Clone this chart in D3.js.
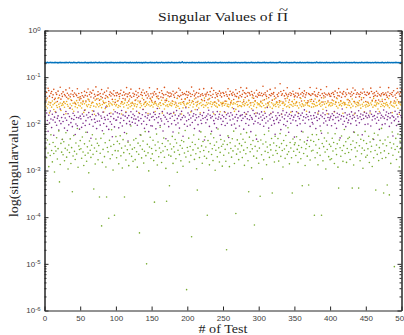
<!DOCTYPE html>
<html>
<head>
<meta charset="utf-8">
<script src="https://cdn.jsdelivr.net/npm/d3@7"></script>
<style>
  body { margin: 0; background: #fff; }
</style>
</head>
<body>
<div id="chart"></div>
<script>
// singular values per test, one array per index (sorted largest first)
var sv1 = [
  .205,.206,.204,.207,.205,.203,.206,.205,.208,.204,.205,.206,.203,.205,.207,.204,.206,.205,.202,.206,.205,.207,.204,.205,.206,
  .204,.206,.205,.203,.207,.205,.206,.204,.205,.208,.205,.203,.206,.204,.205,.207,.205,.206,.204,.203,.205,.206,.207,.205,.204,
  .206,.205,.203,.206,.204,.205,.207,.205,.204,.206,.202,.205,.206,.204,.207,.205,.203,.206,.205,.204,.208,.205,.206,.204,.205,
  .205,.207,.204,.205,.206,.203,.205,.204,.206,.205,.207,.204,.205,.203,.206,.205,.204,.207,.205,.206,.203,.205,.204,.206,.205,
  .203,.205,.206,.204,.205,.207,.204,.206,.205,.203,.205,.206,.208,.204,.205,.206,.204,.205,.203,.207,.205,.204,.206,.205,.204,
  .206,.204,.205,.207,.203,.205,.206,.205,.204,.206,.205,.202,.206,.205,.204,.207,.205,.206,.204,.205,.203,.206,.205,.207,.204,
  .205,.206,.204,.205,.203,.206,.207,.205,.204,.205,.206,.204,.205,.208,.205,.203,.206,.204,.205,.206,.205,.204,.207,.205,.206,
  .204,.205,.207,.205,.206,.204,.205,.203,.206,.205,.204,.206,.205,.207,.204,.205,.206,.213,.205,.204,.206,.205,.203,.205,.206,
  .206,.203,.205,.206,.204,.205,.207,.204,.206,.205,.203,.205,.206,.204,.205,.207,.205,.204,.206,.205,.204,.206,.205,.203,.207,
  .205,.204,.206,.205,.207,.203,.205,.206,.204,.205,.206,.205,.204,.207,.205,.206,.203,.205,.204,.206,.205,.207,.204,.205,.206,
  .204,.206,.205,.203,.206,.205,.204,.207,.205,.206,.204,.205,.203,.206,.205,.204,.207,.205,.206,.204,.205,.206,.203,.205,.204,
  .206,.205,.204,.206,.205,.207,.204,.205,.203,.206,.205,.204,.206,.205,.207,.205,.204,.206,.203,.205,.206,.204,.205,.207,.205,
  .205,.203,.206,.204,.205,.206,.205,.207,.204,.205,.206,.203,.205,.204,.206,.205,.207,.204,.205,.206,.205,.203,.206,.204,.205,
  .204,.206,.205,.207,.212,.205,.204,.206,.205,.203,.206,.205,.204,.207,.205,.206,.204,.205,.203,.206,.205,.204,.206,.205,.207,
  .206,.205,.203,.205,.206,.204,.205,.207,.205,.204,.206,.205,.203,.206,.204,.205,.206,.205,.207,.204,.205,.206,.204,.205,.203,
  .205,.204,.206,.205,.203,.211,.205,.206,.204,.205,.207,.204,.205,.206,.205,.203,.206,.204,.205,.207,.205,.204,.206,.205,.204,
  .204,.206,.205,.204,.207,.205,.203,.206,.205,.204,.206,.205,.207,.204,.205,.206,.203,.205,.206,.204,.205,.207,.205,.206,.204,
  .206,.205,.204,.206,.205,.203,.205,.206,.207,.204,.205,.206,.204,.205,.203,.206,.205,.204,.207,.205,.206,.204,.205,.206,.205,
  .205,.207,.204,.205,.206,.204,.205,.203,.206,.205,.204,.206,.205,.207,.204,.205,.206,.205,.203,.206,.204,.205,.207,.205,.204,
  .204,.205,.206,.203,.205,.207,.204,.206,.205,.204,.206,.205,.203,.205,.206,.204,.207,.205,.206,.204,.205,.203,.206,.205,.206
];
var sv2 = [
  .0437,.0312,.0471,.0358,.0579,.0516,.0392,.0284,.0449,.0493,.0366,.0418,.0548,.0331,.0353,.0462,.0427,.0302,.0502,.0361,.0409,.0607,.0338,.0441,.0387,
  .0483,.0293,.0426,.0398,.0534,.0371,.0452,.0344,.0413,.0588,.0379,.0436,.0316,.0509,.0421,.0384,.0459,.0274,.0432,.0403,.0566,.0368,.0447,.0323,.0381,
  .0347,.0464,.0401,.0298,.0373,.0497,.0408,.0309,.0468,.0393,.0557,.0327,.0423,.0481,.0376,.0454,.0291,.0521,.0357,.0429,.0389,.0618,.0341,.0412,.0488,
  .0419,.0322,.0448,.0386,.0541,.0363,.0434,.0282,.0473,.0352,.0406,.0504,.0378,.0583,.0301,.0422,.0479,.0394,.0451,.0334,.0428,.0513,.0399,.0288,.0458,
  .0402,.0466,.0313,.0431,.0383,.0445,.0524,.0296,.0411,.0349,.0477,.0416,.0339,.0439,.0598,.0382,.0433,.0308,.0461,.0397,.0553,.0372,.0281,.0453,.0391,
  .0428,.0318,.0499,.0414,.0362,.0463,.0388,.0569,.0303,.0424,.0472,.0404,.0531,.0329,.0456,.0289,.0407,.0484,.0359,.0435,.0394,.0592,.0351,.0442,.0311,
  .0374,.0453,.0415,.0487,.0299,.0438,.0385,.0561,.0396,.0343,.0467,.0283,.0377,.0512,.0444,.0364,.0417,.0603,.0321,.0425,.0315,.0481,.0401,.0457,.0381,
  .0459,.0392,.0436,.0307,.0498,.0413,.0369,.0451,.0279,.0476,.0354,.0403,.0577,.0383,.0528,.0408,.0336,.0469,.0427,.0297,.0448,.0342,.0422,.0491,.0367,
  .0412,.0478,.0319,.0443,.0386,.0612,.0424,.0302,.0507,.0398,.0434,.0358,.0466,.0294,.0379,.0452,.0549,.0391,.0418,.0332,.0441,.0405,.0568,.0314,.0429,
  .0393,.0437,.0474,.0328,.0421,.0348,.0489,.0406,.0581,.0372,.0432,.0518,.0292,.0362,.0463,.0419,.0387,.0446,.0309,.0501,.0411,.0455,.0378,.0271,.0468,
  .0447,.0399,.0306,.0482,.0426,.0389,.0563,.0351,.0418,.0497,.0288,.0439,.0408,.0473,.0331,.0432,.0396,.0539,.0383,.0449,.0301,.0371,.0486,.0404,.0597,
  .0381,.0428,.0514,.0298,.0461,.0367,.0443,.0582,.0392,.0469,.0318,.0454,.0413,.0283,.0492,.0426,.0401,.0353,.0458,.0312,.0389,.0523,.0374,.0437,.0409,
  .0471,.0408,.0303,.0452,.0398,.0641,.0427,.0329,.0463,.0414,.0386,.0503,.0281,.0361,.0419,.0547,.0402,.0448,.0322,.0433,.0466,.0391,.0584,.0357,.0293,
  .0423,.0387,.0459,.0311,.0723,.0494,.0409,.0438,.0294,.0519,.0397,.0346,.0452,.0421,.0593,.0388,.0431,.0324,.0462,.0406,.0442,.0302,.0498,.0428,.0379,
  .0398,.0457,.0291,.0377,.0449,.0412,.0572,.0363,.0434,.0308,.0469,.0393,.0441,.0508,.0369,.0418,.0461,.0284,.0313,.0447,.0426,.0601,.0407,.0331,.0439,
  .0436,.0304,.0486,.0417,.0396,.0578,.0383,.0429,.0471,.0319,.0404,.0542,.0361,.0443,.0292,.0401,.0458,.0376,.0432,.0623,.0414,.0309,.0453,.0422,.0388,
  .0391,.0448,.0324,.0468,.0427,.0379,.0502,.0287,.0359,.0461,.0403,.0569,.0394,.0477,.0311,.0372,.0452,.0428,.0489,.0279,.0383,.0459,.0419,.0551,.0333,
  .0457,.0313,.0439,.0384,.0482,.0416,.0587,.0448,.0299,.0527,.0371,.0431,.0463,.0286,.0437,.0382,.0424,.0474,.0328,.0451,.0558,.0362,.0479,.0426,.0301,
  .0409,.0472,.0289,.0433,.0454,.0368,.0581,.0493,.0318,.0441,.0384,.0462,.0407,.0314,.0499,.0392,.0451,.0323,.0418,.0609,.0397,.0438,.0303,.0464,.0421,
  .0428,.0331,.0458,.0412,.0373,.0482,.0596,.0401,.0447,.0292,.0423,.0471,.0389,.0513,.0309,.0414,.0362,.0453,.0571,.0478,.0298,.0436,.0393,.0462,.0537
];
var sv3 = [
  .0268,.0237,.0341,.0219,.0262,.0293,.0172,.0251,.0284,.0228,.0309,.0257,.0203,.0274,.0183,.0289,.0246,.0224,.0352,.0263,.0231,.0279,.0194,.0248,.0271,
  .0253,.0296,.0227,.0272,.0164,.0301,.0259,.0238,.0347,.0215,.0266,.0328,.0244,.0206,.0277,.0186,.0291,.0233,.0261,.0314,.0221,.0283,.0249,.0358,.0240,
  .0281,.0218,.0264,.0312,.0176,.0269,.0199,.0295,.0252,.0234,.0338,.0258,.0303,.0226,.0247,.0275,.0191,.0286,.0239,.0161,.0322,.0229,.0270,.0255,.0349,
  .0232,.0273,.0250,.0336,.0222,.0260,.0306,.0179,.0276,.0212,.0287,.0245,.0235,.0361,.0265,.0241,.0280,.0171,.0267,.0254,.0297,.0201,.0263,.0331,.0243,
  .0259,.0304,.0225,.0248,.0345,.0236,.0271,.0163,.0292,.0262,.0230,.0278,.0316,.0181,.0251,.0285,.0217,.0257,.0339,.0233,.0274,.0246,.0290,.0209,.0266,
  .0242,.0270,.0327,.0231,.0258,.0308,.0174,.0282,.0223,.0269,.0244,.0353,.0205,.0261,.0279,.0236,.0299,.0252,.0273,.0166,.0256,.0294,.0240,.0337,.0250,
  .0288,.0229,.0263,.0281,.0184,.0272,.0253,.0359,.0238,.0264,.0216,.0283,.0247,.0319,.0170,.0268,.0260,.0208,.0290,.0243,.0342,.0255,.0234,.0301,.0262,
  .0251,.0279,.0243,.0270,.0302,.0168,.0259,.0293,.0227,.0249,.0348,.0237,.0275,.0213,.0284,.0262,.0162,.0288,.0220,.0273,.0254,.0332,.0235,.0265,.0280,
  .0273,.0224,.0291,.0252,.0180,.0282,.0310,.0230,.0264,.0340,.0202,.0287,.0242,.0260,.0305,.0218,.0271,.0173,.0283,.0246,.0313,.0258,.0226,.0356,.0249,
  .0244,.0286,.0262,.0221,.0279,.0346,.0268,.0298,.0232,.0259,.0281,.0165,.0253,.0292,.0239,.0274,.0228,.0329,.0257,.0248,.0182,.0285,.0267,.0241,.0289,
  .0277,.0250,.0175,.0269,.0303,.0239,.0261,.0231,.0335,.0255,.0272,.0311,.0222,.0264,.0283,.0185,.0270,.0204,.0294,.0258,.0234,.0350,.0247,.0300,.0243,
  .0234,.0284,.0259,.0326,.0245,.0271,.0163,.0290,.0252,.0260,.0315,.0229,.0278,.0250,.0211,.0362,.0287,.0240,.0263,.0302,.0171,.0223,.0281,.0256,.0269,
  .0263,.0242,.0289,.0233,.0275,.0321,.0248,.0183,.0220,.0266,.0344,.0238,.0272,.0254,.0297,.0230,.0169,.0282,.0214,.0267,.0245,.0338,.0261,.0236,.0279,
  .0291,.0258,.0229,.0285,.0251,.0303,.0161,.0274,.0210,.0280,.0249,.0262,.0308,.0232,.0355,.0241,.0288,.0225,.0259,.0178,.0253,.0299,.0237,.0271,.0333,
  .0250,.0276,.0298,.0243,.0172,.0219,.0282,.0254,.0349,.0234,.0270,.0257,.0240,.0313,.0252,.0283,.0186,.0268,.0247,.0294,.0239,.0328,.0301,.0228,.0273,
  .0270,.0231,.0261,.0339,.0242,.0285,.0248,.0170,.0306,.0260,.0275,.0238,.0292,.0253,.0206,.0357,.0264,.0297,.0227,.0272,.0164,.0289,.0244,.0258,.0281,
  .0241,.0282,.0251,.0268,.0311,.0180,.0263,.0295,.0237,.0346,.0219,.0285,.0249,.0261,.0302,.0243,.0274,.0168,.0290,.0255,.0279,.0260,.0224,.0330,.0252,
  .0284,.0248,.0293,.0222,.0265,.0340,.0240,.0300,.0163,.0278,.0233,.0259,.0288,.0245,.0270,.0313,.0252,.0217,.0360,.0262,.0238,.0291,.0181,.0250,.0230,
  .0260,.0290,.0239,.0273,.0251,.0171,.0280,.0257,.0304,.0228,.0351,.0249,.0292,.0242,.0264,.0283,.0208,.0271,.0184,.0299,.0235,.0262,.0336,.0246,.0276,
  .0233,.0272,.0253,.0287,.0258,.0242,.0347,.0221,.0269,.0301,.0250,.0174,.0239,.0280,.0230,.0275,.0294,.0249,.0329,.0216,.0281,.0160,.0266,.0254,.0292
];
var sv4 = [
  .0142,.0097,.0171,.0118,.0069,.0153,.0104,.0189,.0127,.0083,.0161,.0121,.0057,.0139,.0108,.0176,.0093,.0131,.0148,.0074,.0116,.0207,.0101,.0136,.0046,
  .0112,.0158,.0081,.0133,.0184,.0119,.0072,.0165,.0095,.0143,.0218,.0106,.0129,.0087,.0169,.0124,.0151,.0059,.0099,.0137,.0091,.0179,.0134,.0077,.0146,
  .0128,.0084,.0163,.0103,.0145,.0196,.0092,.0117,.0155,.0066,.0135,.0174,.0098,.0141,.0049,.0122,.0159,.0089,.0187,.0126,.0107,.0149,.0079,.0114,.0168,
  .0157,.0115,.0094,.0147,.0132,.0071,.0178,.0102,.0138,.0123,.0228,.0088,.0152,.0125,.0076,.0166,.0111,.0144,.0098,.0053,.0162,.0129,.0086,.0182,.0119,
  .0121,.0172,.0139,.0082,.0164,.0105,.0131,.0193,.0090,.0154,.0118,.0065,.0146,.0175,.0101,.0134,.0043,.0150,.0113,.0096,.0181,.0137,.0108,.0160,.0127,
  .0149,.0103,.0126,.0186,.0093,.0140,.0117,.0167,.0058,.0130,.0100,.0156,.0203,.0114,.0080,.0143,.0173,.0097,.0133,.0152,.0068,.0120,.0163,.0091,.0138,
  .0090,.0144,.0176,.0122,.0158,.0078,.0135,.0213,.0106,.0141,.0165,.0092,.0128,.0115,.0183,.0070,.0153,.0099,.0139,.0048,.0125,.0170,.0112,.0087,.0161,
  .0132,.0166,.0100,.0145,.0067,.0177,.0118,.0154,.0095,.0192,.0129,.0104,.0148,.0081,.0162,.0123,.0185,.0136,.0054,.0151,.0098,.0140,.0221,.0116,.0089,
  .0171,.0124,.0155,.0094,.0133,.0188,.0107,.0146,.0164,.0079,.0120,.0157,.0135,.0201,.0096,.0142,.0070,.0160,.0119,.0102,.0150,.0130,.0174,.0045,.0137,
  .0105,.0147,.0123,.0163,.0195,.0088,.0152,.0134,.0069,.0144,.0179,.0117,.0101,.0156,.0131,.0082,.0183,.0125,.0140,.0161,.0057,.0129,.0097,.0153,.0113,
  .0141,.0181,.0092,.0130,.0157,.0103,.0168,.0051,.0145,.0121,.0173,.0094,.0154,.0127,.0210,.0099,.0139,.0080,.0159,.0116,.0134,.0185,.0090,.0148,.0152,
  .0118,.0156,.0131,.0077,.0175,.0143,.0102,.0161,.0128,.0182,.0093,.0122,.0150,.0068,.0137,.0126,.0194,.0100,.0165,.0114,.0146,.0047,.0170,.0105,.0132,
  .0162,.0098,.0140,.0180,.0120,.0153,.0089,.0131,.0169,.0104,.0142,.0224,.0115,.0081,.0155,.0127,.0164,.0093,.0138,.0178,.0117,.0101,.0060,.0149,.0124,
  .0133,.0172,.0106,.0151,.0119,.0075,.0163,.0140,.0190,.0097,.0128,.0155,.0091,.0174,.0113,.0145,.0066,.0160,.0130,.0103,.0150,.0184,.0121,.0139,.0052,
  .0154,.0116,.0182,.0092,.0144,.0166,.0129,.0100,.0152,.0069,.0170,.0119,.0141,.0199,.0103,.0135,.0158,.0044,.0143,.0122,.0178,.0088,.0149,.0127,.0107,
  .0099,.0150,.0132,.0173,.0079,.0139,.0118,.0160,.0187,.0128,.0090,.0153,.0063,.0142,.0171,.0104,.0130,.0156,.0115,.0192,.0094,.0137,.0162,.0120,.0134,
  .0145,.0091,.0164,.0123,.0151,.0184,.0102,.0136,.0080,.0169,.0140,.0117,.0158,.0050,.0127,.0148,.0208,.0098,.0143,.0114,.0172,.0087,.0131,.0155,.0106,
  .0120,.0161,.0143,.0101,.0180,.0129,.0152,.0067,.0138,.0170,.0116,.0093,.0149,.0132,.0191,.0105,.0141,.0163,.0124,.0058,.0154,.0130,.0177,.0097,.0146,
  .0168,.0135,.0099,.0152,.0140,.0189,.0090,.0160,.0121,.0144,.0046,.0150,.0128,.0182,.0103,.0138,.0165,.0119,.0076,.0171,.0133,.0153,.0096,.0142,.0198,
  .0131,.0100,.0154,.0179,.0123,.0143,.0166,.0088,.0134,.0173,.0104,.0148,.0055,.0139,.0117,.0186,.0127,.0092,.0160,.0141,.0112,.0175,.0098,.0151,.0136
];
var sv5 = [
  .00063,.00314,.00187,.00452,.00238,.00121,.00365,.00209,.00581,.00268,.00153,.00397,.00231,.00093,.00328,.00262,.00503,.00176,.00294,.00705,.00057,.00134,.00381,.00247,.00466,
  .00218,.00413,.00162,.00298,.00642,.00193,.00274,.00108,.00352,.00243,.00476,.00141,.00309,.00035,.00204,.00563,.00257,.00172,.00388,.00226,.00796,.00117,.00335,.00281,.00437,
  .00292,.00183,.00521,.00249,.00128,.00372,.00213,.00659,.00158,.00321,.00236,.00089,.00428,.00272,.00191,.00347,.00584,.00222,.0004,.00303,.00138,.00471,.00258,.00383,.00169,
  .00342,.00027,.00234,.00488,.000065,.00149,.00283,.00612,.00198,.00393,.00119,.00027,.00312,.00251,.000095,.00443,.00178,.00329,.00748,.00217,.00102,.00361,.00011,.00266,.00532,
  .00188,.00421,.00263,.00139,.00374,.00553,.00206,.00302,.00113,.00458,.00241,.00027,.00334,.00168,.00617,.00279,.00402,.00127,.00229,.00353,.00896,.00201,.00287,.00157,.00449,
  .00308,.00171,.00484,.00252,.00118,.00386,.00223,.000046,.00339,.00572,.00186,.00284,.00427,.00144,.00259,.00681,.00208,.00001,.00363,.00239,.00098,.00318,.00514,.00181,.00296,
  .00227,.00446,.00163,.00021,.00351,.00267,.00603,.00131,.00408,.00197,.00304,.00847,.00242,.00148,.00379,.00261,.00497,.00192,.00326,.00111,.00022,.00278,.00432,.00214,.00047,
  .00369,.00203,.00288,.00538,.00142,.00323,.00248,.00462,.00179,.00387,.00092,.00271,.00634,.00219,.00343,.00161,.00441,.00299,.00123,.00412,.00237,.00718,.00194,.0000028,.00311,
  .00258,.00493,.00152,.00327,.00211,.000038,.00403,.00276,.00578,.00173,.00362,.00229,.00109,.00038,.00301,.00468,.00189,.00253,.00672,.00337,.00143,.00418,.00269,.00202,.00527,
  .00319,.00182,.00011,.00437,.00251,.00132,.00377,.00608,.00221,.00293,.00163,.00502,.00348,.00101,.00272,.00409,.00196,.00776,.00306,.00152,.00244,.00461,.00331,.00124,.00366,
  .00213,.00428,.00284,.00158,.00002,.00359,.00552,.00238,.00121,.00392,.00297,.00193,.00478,.00263,.00697,.00141,.00333,.00012,.00224,.00453,.00288,.00171,.00376,.00249,.00603,
  .00341,.00189,.00468,.00273,.00129,.00404,.00228,.00648,.00307,.00162,.00035,.00518,.00252,.00361,.00114,.00291,.00437,.00203,.000068,.00329,.00567,.00184,.00261,.00419,.00143,
  .00302,.00028,.00449,.00218,.00066,.00371,.00169,.00592,.00257,.00408,.00133,.00318,.00243,.00702,.00191,.00354,.00276,.00486,.00033,.00212,.00388,.00152,.00541,.00267,.00338,
  .00232,.00482,.00159,.00313,.00618,.00201,.00377,.00268,.00119,.00439,.00289,.00182,.00562,.00342,.00222,.00827,.00253,.00139,.00397,.00303,.00188,.00033,.00473,.00259,.00358,
  .00391,.00209,.00528,.00283,.00149,.00343,.00246,.00457,.00179,.00312,.00047,.00668,.00231,.00409,.00128,.00292,.00368,.00203,.00513,.00049,.00327,.00168,.00443,.00262,.00588,
  .00271,.00418,.00011,.00187,.00352,.00582,.00239,.00132,.00463,.00299,.00211,.00708,.00011,.00379,.00161,.00324,.00497,.00248,.00108,.00427,.00282,.00637,.00198,.00363,.00171,
  .00329,.00178,.00491,.00262,.00398,.00141,.00612,.00293,.00219,.00372,.00118,.00042,.00448,.00308,.00202,.00548,.00268,.00157,.00341,.00758,.00232,.00413,.00149,.00297,.00482,
  .00243,.00517,.00172,.00361,.00279,.00042,.00428,.00131,.00657,.00309,.00198,.00392,.00261,.00573,.00042,.00338,.00162,.00468,.00228,.00302,.00112,.00437,.00272,.00688,.00193,
  .00378,.00212,.00291,.00543,.00148,.00407,.00253,.00332,.00122,.00476,.00187,.00628,.00268,.00038,.00351,.00222,.00577,.00163,.00309,.00442,.00239,.00798,.00181,.00372,.00033,
  .00263,.00451,.00189,.00338,.00049,.00522,.00231,.0003,.00398,.00142,.00303,.00667,.00212,.00369,.0000087,.00281,.00487,.00172,.00327,.00603,.00248,.00119,.00423,.00311,.00553
];

var xTicks = [0, 50, 100, 150, 200, 250, 300, 350, 400, 450, 500];
var yTicks = [1e-6, 1e-5, 1e-4, 1e-3, 1e-2, 1e-1, 1];
var yTickExp = ["-6", "-5", "-4", "-3", "-2", "-1", "0"];
var colors = ["#0072BD", "#D95319", "#EDB120", "#7E2F8E", "#77AC30"];

var w = 404;
var h = 335;
var margin = { top: 30.5, bottom: 24.5, left: 44.5, right: 2.5 };
var width = w - margin.left - margin.right;
var height = h - margin.top - margin.bottom;

var xScale = d3.scaleLinear()
  .domain([0, 500])
  .range([0, width]);

var yScale = d3.scaleLog()
  .domain([1e-6, 1])
  .range([height, 0]);

// minor ticks 2..9 in every decade
var yMinor = [];
yTicks.slice(0, -1).forEach(function (t) {
  for (var k = 2; k < 10; k++) yMinor.push(t * k);
});

var svg = d3.select("#chart")
  .append("svg")
  .attr("width", w)
  .attr("height", h);

var chart = svg.append("g")
  .attr("transform", "translate(" + margin.left + "," + margin.top + ")");

// points
[sv1, sv2, sv3, sv4, sv5].forEach(function (vals, k) {
  chart.append("g")
    .selectAll("circle")
    .data(vals)
    .enter()
    .append("circle")
    .attr("cx", function (d, i) { return xScale(i + 1) })
    .attr("cy", function (d) { return yScale(d) })
    .attr("r", 0.8)
    .style("fill", colors[k]);
});

function styleAxis(sel) {
  sel.selectAll("path, line").attr("stroke", "#262626");
  sel.selectAll("text")
    .style("font-family", "'Liberation Sans', Arial, sans-serif")
    .style("font-size", "8px")
    .style("fill", "#404040");
}

// bottom / top
chart.append("g")
  .attr("transform", "translate(0," + height + ")")
  .call(d3.axisBottom(xScale).tickValues(xTicks).tickSize(-4).tickSizeOuter(0).tickPadding(5))
  .call(styleAxis);

chart.append("g")
  .call(d3.axisTop(xScale).tickValues(xTicks).tickSize(-4).tickSizeOuter(0).tickFormat(""))
  .call(styleAxis);

// left / right majors and minors
chart.append("g")
  .call(d3.axisLeft(yScale).tickValues(yTicks).tickSize(-4).tickSizeOuter(0).tickFormat(""))
  .call(styleAxis);
chart.append("g")
  .call(d3.axisLeft(yScale).tickValues(yMinor).tickSize(-2).tickSizeOuter(0).tickFormat(""))
  .call(styleAxis);
chart.append("g")
  .attr("transform", "translate(" + width + ",0)")
  .call(d3.axisRight(yScale).tickValues(yTicks).tickSize(-4).tickSizeOuter(0).tickFormat(""))
  .call(styleAxis);
chart.append("g")
  .attr("transform", "translate(" + width + ",0)")
  .call(d3.axisRight(yScale).tickValues(yMinor).tickSize(-2).tickSizeOuter(0).tickFormat(""))
  .call(styleAxis);

// 10^n labels
chart.append("g")
  .selectAll("text")
  .data(yTicks)
  .enter()
  .append("text")
  .attr("x", -4)
  .attr("y", function (d) { return yScale(d) })
  .attr("dy", "0.35em")
  .attr("text-anchor", "end")
  .style("font-family", "'Liberation Sans', Arial, sans-serif")
  .style("font-size", "8px")
  .style("fill", "#404040")
  .each(function (d, i) {
    var t = d3.select(this);
    t.append("tspan").text("10");
    t.append("tspan").attr("dy", "-0.45em").style("font-size", "6px").text(yTickExp[i]);
  });

// title and axis labels
var serif = "'Liberation Serif', 'Times New Roman', serif";

var title = svg.append("text")
  .attr("x", margin.left + width / 2)
  .attr("y", 20.5)
  .attr("text-anchor", "middle")
  .attr("textLength", 130)
  .attr("lengthAdjust", "spacingAndGlyphs")
  .style("font-family", serif)
  .style("font-size", "13px")
  .style("fill", "#1a1a1a")
  .text("Singular Values of \u03A0");

var tb = title.node().getBBox();
svg.append("text")
  .attr("x", tb.x + tb.width - 4.5)
  .attr("y", 13.8)
  .attr("text-anchor", "middle")
  .attr("textLength", 9)
  .attr("lengthAdjust", "spacingAndGlyphs")
  .style("font-family", serif)
  .style("font-size", "12px")
  .style("fill", "#1a1a1a")
  .text("~");

svg.append("text")
  .attr("transform", "translate(18," + (margin.top + 135.5) + ") rotate(-90)")
  .attr("text-anchor", "middle")
  .attr("textLength", 102)
  .attr("lengthAdjust", "spacingAndGlyphs")
  .style("font-family", serif)
  .style("font-size", "13px")
  .style("fill", "#262626")
  .text("log(singularvalue)");

svg.append("text")
  .attr("x", margin.left + width / 2)
  .attr("y", 333)
  .attr("text-anchor", "middle")
  .attr("textLength", 49)
  .attr("lengthAdjust", "spacingAndGlyphs")
  .style("font-family", serif)
  .style("font-size", "12px")
  .style("fill", "#262626")
  .text("# of Test");
</script>
</body>
</html>
